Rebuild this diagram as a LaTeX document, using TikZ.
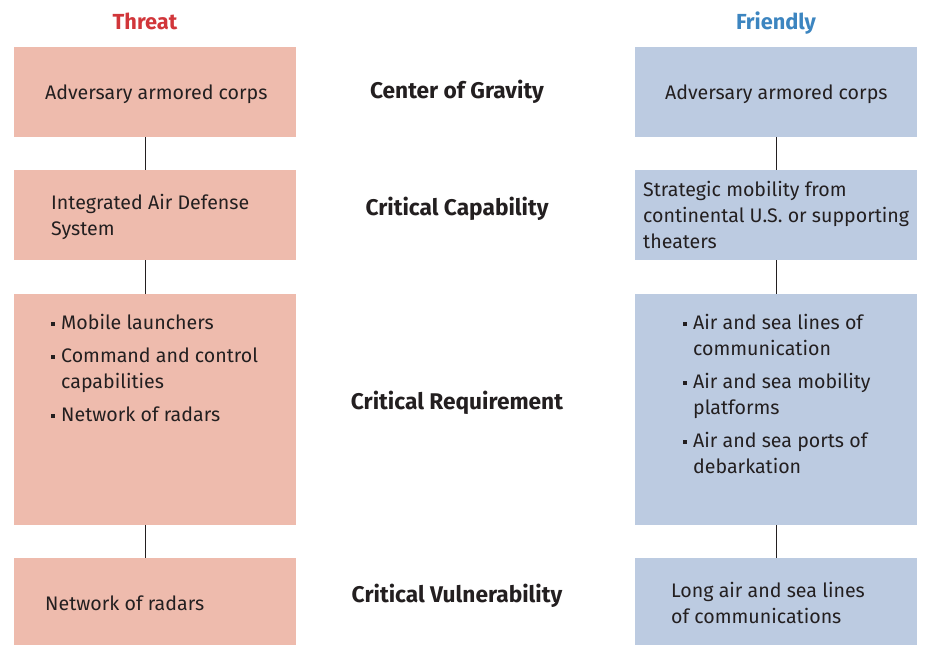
\documentclass[tikz,border=0pt]{standalone}
\usepackage{fontspec}
\setmainfont{Fira Sans}
\definecolor{threatfill}{HTML}{EEBBAD}
\definecolor{friendfill}{HTML}{BCCBE1}
\definecolor{threatred}{HTML}{D1363A}
\definecolor{friendblue}{HTML}{3C85C0}
\definecolor{ink}{HTML}{231F20}
\newcommand{\bul}{\makebox[10pt][l]{\rule[3.5pt]{3.8pt}{3.8pt}}}
\newcommand{\ind}{\hspace*{10pt}}
\tikzset{
  tbox/.style={fill=threatfill, anchor=north west, minimum width=282pt, inner sep=0pt},
  fbox/.style={fill=friendfill, anchor=north west, minimum width=282pt, inner sep=0pt},
  txt/.style={anchor=base west, align=left, inner sep=0pt, text=ink,
    font=\fontsize{19.6}{26}\selectfont},
  lvl/.style={anchor=base, inner sep=0pt, text=ink, font=\fontsize{22.7}{26}\selectfont\bfseries},
  head/.style={anchor=base, inner sep=0pt, font=\fontsize{21.8}{26}\selectfont\bfseries},
  link/.style={draw=ink, line width=1pt}
}
\begin{document}
\begin{tikzpicture}[x=1pt,y=-1pt]
  \useasboundingbox (0,0) rectangle (926,645);

  \node[head, text=threatred] (th) at (145,29) {Threat};
  \node[head, text=friendblue] (fr) at (776,29) {Friendly};

  \node[tbox, minimum height=90pt] (t1) at (14,47) {};
  \node[tbox, minimum height=90pt] (t2) at (14,170) {};
  \node[tbox, minimum height=231pt] (t3) at (14,294) {};
  \node[tbox, minimum height=87pt] (t4) at (14,558) {};

  \node[fbox, minimum height=90pt] (f1) at (635,47) {};
  \node[fbox, minimum height=90pt] (f2) at (635,170) {};
  \node[fbox, minimum height=231pt] (f3) at (635,294) {};
  \node[fbox, minimum height=87pt] (f4) at (635,558) {};

  \draw[link] (t1.south -| th) -- (t2.north -| th);
  \draw[link] (t2.south -| th) -- (t3.north -| th);
  \draw[link] (t3.south -| th) -- (t4.north -| th);
  \draw[link] (f1.south -| fr) -- (f2.north -| fr);
  \draw[link] (f2.south -| fr) -- (f3.north -| fr);
  \draw[link] (f3.south -| fr) -- (f4.north -| fr);

  % left column text (anchored at the last line)
  \node[txt] (tt1) at (45,99) {Adversary armored corps};
  \node[txt] (tt2) at (51,235) {Integrated Air Defense\\System};
  \node[txt] (tt3) at (51,421) {\bul Mobile launchers\\[7pt]
    \bul Command and control\\\ind capabilities\\[7pt]
    \bul Network of radars};
  \node[txt] (tt4) at (45,610) {Network of radars};

  % middle labels
  \node[lvl] (cog) at (457,98) {Center of Gravity};
  \node[lvl] (cc) at (457,215) {Critical Capability};
  \node[lvl] (cr) at (457,409) {Critical Requirement};
  \node[lvl] (cv) at (457,602) {Critical Vulnerability};

  % right column text
  \node[txt] (ft1) at (665,99) {Adversary armored corps};
  \node[txt] (ft2) at (643,248) {Strategic mobility from\\continental U.S. or supporting\\theaters};
  \node[txt] (ft3) at (683,473) {\bul Air and sea lines of\\\ind communication\\[7pt]
    \bul Air and sea mobility\\\ind platforms\\[7pt]
    \bul Air and sea ports of\\\ind debarkation};
  \node[txt] (ft4) at (671,623) {Long air and sea lines\\of communications};
\end{tikzpicture}
\end{document}
